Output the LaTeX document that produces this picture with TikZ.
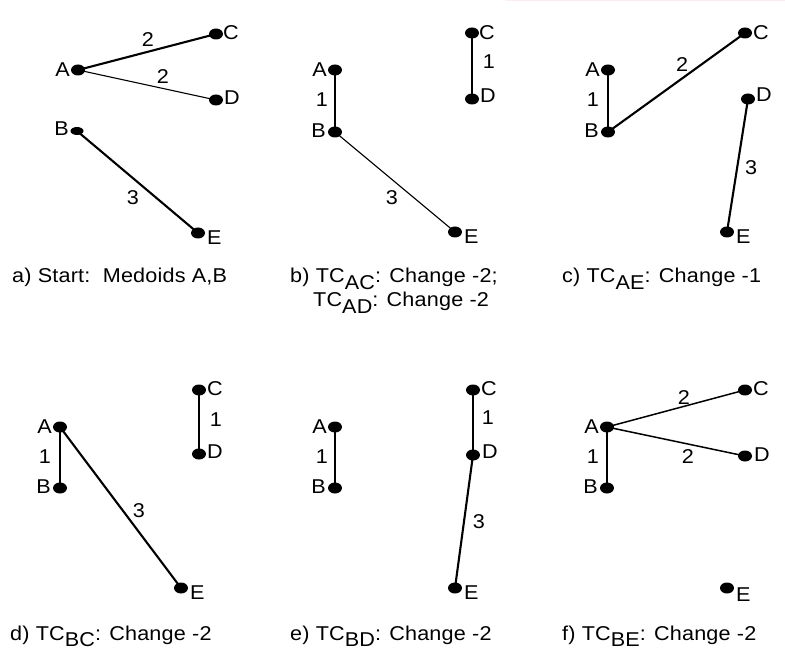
\documentclass[tikz,border=0pt]{standalone}
\usepackage{fontspec}
\setmainfont{Liberation Sans}[FakeStretch=1.08, LetterSpace=1]
\usetikzlibrary{shapes.geometric}
\tikzset{
  dot/.style={ellipse, fill=black, draw=none, minimum width=14pt, minimum height=11pt, inner sep=0pt},
  flatdot/.style={dot, minimum width=13pt, minimum height=8pt},
  lbl/.style={font=\fontsize{20}{23}\selectfont, inner sep=0pt},
  num/.style={font=\fontsize{20}{23}\selectfont, inner sep=0pt},
  captxt/.style={font=\fontsize{20}{23}\selectfont, inner sep=0pt, anchor=base west},
  heavy/.style={line width=2.1pt},
  medium/.style={line width=1.5pt},
  light/.style={line width=1.1pt},
}
\newcommand{\subx}[1]{\raisebox{-0.65ex}{#1}}
\begin{document}
\begin{tikzpicture}[x=1pt,y=-1pt]
\useasboundingbox (0,0) rectangle (785,663);
\fill[white] (0,0) rectangle (785,663);
\fill[magenta!8] (505,0) rectangle (785,1.5);
% ---------- panel a ----------
\node[dot] (aA) at (78,70) {};
\node[dot] (aC) at (216,34) {};
\node[dot] (aD) at (216,100) {};
\node[flatdot] (aB) at (77,131) {};
\node[dot] (aE) at (198,233) {};
\draw[heavy] (aA.center) -- (aC.center);
\draw[light] (aA.center) -- (aD.center);
\draw[heavy] (aB.center) -- (aE.center);
\node[lbl, anchor=east] (aAl) at (70,70) {A};
\node[lbl, anchor=west] (aCl) at (223,33) {C};
\node[lbl, anchor=west] (aDl) at (224,98) {D};
\node[lbl, anchor=east] (aBl) at (69,129) {B};
\node[lbl, anchor=west] (aEl) at (207,238) {E};
\node[num] (an1) at (148,40) {2};
\node[num] (an2) at (163,77) {2};
\node[num] (an3) at (133,198) {3};
\node[captxt] (acap) at (12,283) {a) Start:\ \ Medoids A,B};
% ---------- panel b ----------
\node[dot] (bA) at (335,70) {};
\node[dot] (bB) at (335,132) {};
\node[dot] (bC) at (472,33) {};
\node[dot] (bD) at (472,99) {};
\node[dot] (bE) at (455,232) {};
\draw[medium] (bA.center) -- (bB.center);
\draw[medium] (bC.center) -- (bD.center);
\draw[light] (bB.center) -- (bE.center);
\node[lbl, anchor=east] (bAl) at (327,70) {A};
\node[lbl, anchor=east] (bBl) at (326,131) {B};
\node[lbl, anchor=west] (bCl) at (479,33) {C};
\node[lbl, anchor=west] (bDl) at (480,96) {D};
\node[lbl, anchor=west] (bEl) at (464,237) {E};
\node[num] (bn1) at (322,100) {1};
\node[num] (bn2) at (489,62) {1};
\node[num] (bn3) at (392,198) {3};
\node[captxt] (bcap) at (290,283) {b) TC\subx{AC}: Change -2;};
\node[captxt] (bcap2) at (313,307) {TC\subx{AD}: Change -2};
% ---------- panel c ----------
\node[dot] (cA) at (608,70) {};
\node[dot] (cB) at (608,132) {};
\node[dot] (cC) at (745,33) {};
\node[dot] (cD) at (748,99) {};
\node[dot] (cE) at (727,232) {};
\draw[medium] (cA.center) -- (cB.center);
\draw[heavy] (cB.center) -- (cC.center);
\draw[heavy] (cD.center) -- (cE.center);
\node[lbl, anchor=east] (cAl) at (600,70) {A};
\node[lbl, anchor=east] (cBl) at (599,131) {B};
\node[lbl, anchor=west] (cCl) at (753,33) {C};
\node[lbl, anchor=west] (cDl) at (756,95) {D};
\node[lbl, anchor=west] (cEl) at (736,237) {E};
\node[num] (cn1) at (593,100) {1};
\node[num] (cn2) at (682,65) {2};
\node[num] (cn3) at (751,168) {3};
\node[captxt] (ccap) at (562,283) {c) TC\subx{AE}: Change -1};
% ---------- panel d ----------
\node[dot] (dA) at (60,427) {};
\node[dot] (dB) at (60,488) {};
\node[dot] (dC) at (199,390) {};
\node[dot] (dD) at (199,454) {};
\node[dot] (dE) at (181,588) {};
\draw[medium] (dA.center) -- (dB.center);
\draw[medium] (dC.center) -- (dD.center);
\draw[heavy] (dA.center) -- (dE.center);
\node[lbl, anchor=east] (dAl) at (52,427) {A};
\node[lbl, anchor=east] (dBl) at (51,487) {B};
\node[lbl, anchor=west] (dCl) at (207,389) {C};
\node[lbl, anchor=west] (dDl) at (207,452) {D};
\node[lbl, anchor=west] (dEl) at (190,593) {E};
\node[num] (dn1) at (45,457) {1};
\node[num] (dn2) at (216,420) {1};
\node[num] (dn3) at (139,511) {3};
\node[captxt] (dcap) at (10,640) {d) TC\subx{BC}: Change -2};
% ---------- panel e ----------
\node[dot] (eA) at (335,427) {};
\node[dot] (eB) at (335,488) {};
\node[dot] (eC) at (473,390) {};
\node[dot] (eD) at (473,455) {};
\node[dot] (eE) at (455,588) {};
\draw[medium] (eA.center) -- (eB.center);
\draw[medium] (eC.center) -- (eD.center);
\draw[heavy] (eD.center) -- (eE.center);
\node[lbl, anchor=east] (eAl) at (327,427) {A};
\node[lbl, anchor=east] (eBl) at (326,487) {B};
\node[lbl, anchor=west] (eCl) at (481,389) {C};
\node[lbl, anchor=west] (eDl) at (482,452) {D};
\node[lbl, anchor=west] (eEl) at (464,593) {E};
\node[num] (en1) at (322,457) {1};
\node[num] (en2) at (488,418) {1};
\node[num] (en3) at (479,522) {3};
\node[captxt] (ecap) at (290,640) {e) TC\subx{BD}: Change -2};
% ---------- panel f ----------
\node[dot] (fA) at (607,427) {};
\node[dot] (fB) at (607,488) {};
\node[dot] (fC) at (745,390) {};
\node[dot] (fD) at (745,456) {};
\node[dot] (fE) at (727,588) {};
\draw[medium] (fA.center) -- (fB.center);
\draw[medium] (fA.center) -- (fC.center);
\draw[medium] (fA.center) -- (fD.center);
\node[lbl, anchor=east] (fAl) at (599,427) {A};
\node[lbl, anchor=east] (fBl) at (598,487) {B};
\node[lbl, anchor=west] (fCl) at (753,389) {C};
\node[lbl, anchor=west] (fDl) at (754,455) {D};
\node[lbl, anchor=west] (fEl) at (736,595) {E};
\node[num] (fn1) at (593,457) {1};
\node[num] (fn2) at (684,398) {2};
\node[num] (fn3) at (688,457) {2};
\node[captxt] (fcap) at (562,640) {f) TC\subx{BE}: Change -2};
\end{tikzpicture}
\end{document}
